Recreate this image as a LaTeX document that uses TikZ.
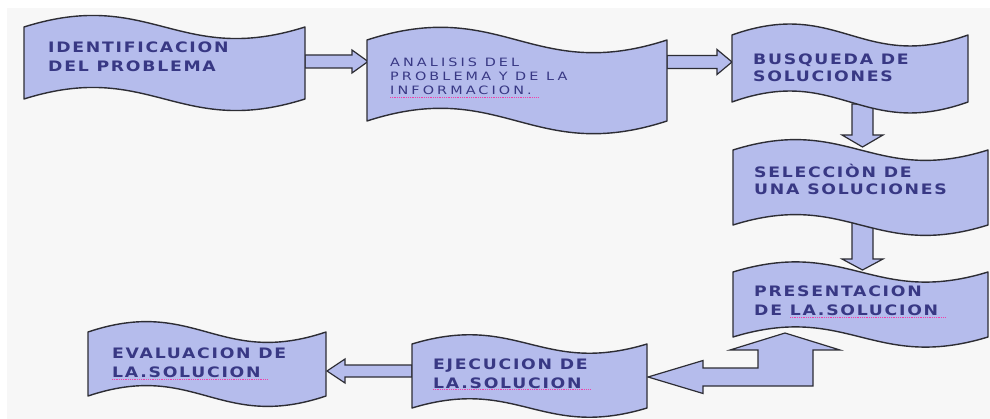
\documentclass[tikz,border=0pt]{standalone}
\usepackage{fontspec}
\usetikzlibrary{calc}
\newfontfamily\tapebold{DejaVu Sans}[FakeStretch=1.2, LetterSpace=12]
\newfontfamily\tapethin{DejaVu Sans}[FakeStretch=1.25, LetterSpace=27]
\definecolor{tapefill}{RGB}{181,188,236}
\definecolor{tapeline}{RGB}{45,45,52}
\definecolor{labelblue}{RGB}{56,56,132}
\definecolor{pagegrey}{RGB}{247,247,247}
\def\wavebox(#1,#2)(#3,#4:#5){\draw[tape] (#1,#2) .. controls ({#1+0.45*(#3-#1)},{#2-#5}) and ({#1+0.55*(#3-#1)},{#2+#5}) .. (#3,#2) -- (#3,#4) .. controls ({#1+0.55*(#3-#1)},{#4+#5}) and ({#1+0.45*(#3-#1)},{#4-#5}) .. (#1,#4) -- cycle;}
\def\harrow(#1)(#2:#3:#4:#5){\draw[blockarrow] ($(#1)+(0,-#3)$) -- ($(#2)+({-(#5)},-#3)$) -- ($(#2)+({-(#5)},-#4)$) -- (#2) -- ($(#2)+({-(#5)},#4)$) -- ($(#2)+({-(#5)},#3)$) -- ($(#1)+(0,#3)$) -- cycle;}
\def\varrow(#1)(#2:#3:#4:#5){\draw[blockarrow] ($(#1)+(-#3,0)$) -- ($(#2)+(-#3,-#5)$) -- ($(#2)+(-#4,-#5)$) -- (#2) -- ($(#2)+(#4,-#5)$) -- ($(#2)+(#3,-#5)$) -- ($(#1)+(#3,0)$) -- cycle;}

\begin{document}
\begin{tikzpicture}[x=1pt, y=-1pt,
	tape/.style={fill=tapefill, draw=tapeline, line width=1.4pt, line join=round},
	blockarrow/.style={fill=tapefill, draw=tapeline, line width=1.2pt, line join=miter},
	boldlabel/.style={inner sep=0pt, anchor=base west, align=left, text=labelblue, font=\tapebold\bfseries\fontsize{14.4}{19}\selectfont},
	thinlabel/.style={inner sep=0pt, anchor=base west, align=left, text=labelblue, font=\tapethin\fontsize{11.5}{14.3}\selectfont},
	spellmark/.style={draw=magenta!75, line width=0.8pt, densely dotted}]
			%%%%% START %%%%%
			
			\useasboundingbox (0,0) rectangle (990,419);
			\fill[white] (0,0) rectangle (990,419);
			\fill[pagegrey] (7,8) rectangle (990,419);
			
			% ends of the arrows
			\coordinate (ident-e) at (305,61.5);
			\coordinate (anal-w) at (368,61.5);
			\coordinate (anal-e) at (667,62);
			\coordinate (busq-w) at (732,62);
			\coordinate (busq-s) at (862.5,104);
			\coordinate (selec-n) at (862.5,147);
			\coordinate (selec-s) at (862.5,220);
			\coordinate (pres-n) at (862.5,270);
			\coordinate (pres-s) at (785,333);
			\coordinate (ejec-e) at (648,377);
			\coordinate (ejec-w) at (412,371);
			\coordinate (eval-e) at (327,371);
			
			\harrow(ident-e)(anal-w:6.5:11.5:16);
			\harrow(anal-e)(busq-w:6.5:12.5:15);
			\varrow(busq-s)(selec-n:10.5:20.5:12);
			\varrow(selec-s)(pres-n:10.5:20.5:11);
			\harrow(ejec-w)(eval-e:6:12:-18);
			
			% bent arrow with two heads
			\draw[blockarrow] (pres-s) -- ($(pres-s)+(55,17)$) -- ($(pres-s)+(28,17)$) -- ($(pres-s)+(28,53)$)
				-- ($(ejec-e)+(55,9)$) -- ($(ejec-e)+(55,16.5)$) -- (ejec-e) -- ($(ejec-e)+(55,-16.5)$)
				-- ($(ejec-e)+(55,-9)$) -- ($(ejec-e)+(110,-9)$) -- ($(pres-s)+(-27,17)$) -- ($(pres-s)+(-55,17)$) -- cycle;
			
			\wavebox(24,27)(305,99:40);
			\wavebox(367,40)(667,121:44);
			\wavebox(732,35)(968,102:38);
			\wavebox(733,150)(988,225:36);
			\wavebox(733,272)(988,337:35);
			\wavebox(412,344)(647,408:32);
			\wavebox(88,332)(326,396:36);
			
			% last line of each label sits on the given point
			\node[boldlabel] (ident) at (48,72) {IDENTIFICACION\\DEL PROBLEMA};
			\node[thinlabel] (anal) at (390,95) {ANALISIS DEL\\PROBLEMA Y DE LA\\INFORMACION.};
			\node[boldlabel, font=\tapebold\bfseries\fontsize{14.4}{17}\selectfont] (busq) at (753,82) {BUSQUEDA DE\\SOLUCIONES};
			\node[boldlabel, font=\tapebold\bfseries\fontsize{14.4}{17.5}\selectfont] (selec) at (754,195) {SELECCIÒN DE\\UNA SOLUCIONES};
			\node[boldlabel, font=\tapebold\bfseries\fontsize{14.4}{18.5}\selectfont] (pres) at (754,315.5) {PRESENTACION\\DE LA.SOLUCION};
			\node[boldlabel, font=\tapebold\bfseries\fontsize{14.4}{18}\selectfont] (ejec) at (433,388) {EJECUCION DE\\LA.SOLUCION};
			\node[boldlabel] (eval) at (112,377.5) {EVALUACION DE\\LA.SOLUCION};
			
			\draw[spellmark] (390,97.5) -- (538,97.5);
			\draw[spellmark] (790,317) -- (945,317);
			\draw[spellmark] (433,389.5) -- (590,389.5);
			\draw[spellmark] (112,379) -- (268,379);
			
			%%%%% END %%%%%
\end{tikzpicture}
\end{document}
